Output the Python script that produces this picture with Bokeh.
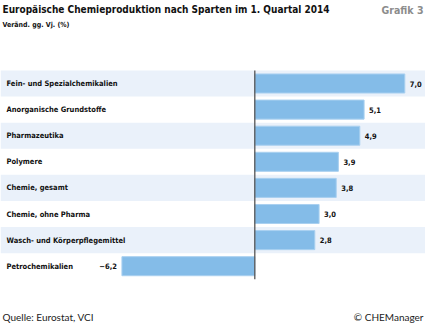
from bokeh.plotting import figure
from bokeh.models import Range1d, Label, ColumnDataSource
from bokeh.core.properties import value
from bokeh.embed import file_html
from bokeh.resources import INLINE

categories = ["Fein- und Spezialchemikalien", "Anorganische Grundstoffe", "Pharmazeutika",
              "Polymere", "Chemie, gesamt", "Chemie, ohne Pharma",
              "Wasch- und Körperpflegemittel", "Petrochemikalien"]
values = [7.0, 5.1, 4.9, 3.9, 3.8, 3.0, 2.8, -6.2]
value_labels = ["7,0", "5,1", "4,9", "3,9", "3,8", "3,0", "2,8", "\u22126,2"]

W, H = 425, 324
PX = 21.43
X0 = 254.3
ROW = 26.1
Y0 = 83.0

xmin = -X0 / PX
xmax = (W - X0) / PX
ytop = -Y0 / ROW
ybot = (H - Y0) / ROW

F = "DejaVu Sans Condensed"
F2 = "Lato"

p = figure(width=W, height=H, output_backend="svg", toolbar_location=None,
           x_range=Range1d(xmin, xmax), y_range=Range1d(ybot, ytop),
           min_border=0, outline_line_color=None)
p.axis.visible = False
p.grid.visible = False

n = len(categories)
ys = list(range(n))
src = ColumnDataSource(dict(
    y=ys, cat=categories, val=values, lab=value_labels,
    lx=[v + 5 / PX if v >= 0 else v - 5 / PX for v in values],
    align=["left" if v >= 0 else "right" for v in values],
))

stripe_y = [i for i in ys if i % 2 == 0]
p.quad(left=xmin, right=xmax, bottom=[y - 0.5 for y in stripe_y], top=[y + 0.5 for y in stripe_y],
       fill_color="#EAF1FA", line_color=None)

p.hbar(y="y", left=0, right="val", height=0.73, source=src,
       fill_color="#84BCE8", line_color="#A9D0F0", line_width=1)

p.segment(x0=0, x1=0, y0=-0.5, y1=n - 0.5, line_color="#555555", line_width=1.3)

p.text(x=xmin + 6 / PX, y="y", text="cat", source=src, text_font=value(F),
       text_font_style="bold", text_font_size="7.5px", text_baseline="middle", text_color="#111111")
p.text(x="lx", y="y", text="lab", source=src, text_align="align",
       text_font=value(F), text_font_style="bold", text_font_size="7.5px",
       text_baseline="middle", text_color="#111111")

p.add_layout(Label(x=2, y=H - 9, x_units="screen", y_units="screen",
                   text="Europäische Chemieproduktion nach Sparten im 1. Quartal 2014",
                   text_font=F, text_font_style="bold", text_font_size="10px",
                   text_baseline="middle", text_color="#111111"))
p.add_layout(Label(x=423, y=H - 9, x_units="screen", y_units="screen", text="Grafik 3",
                   text_font=F, text_font_style="bold", text_font_size="10.5px",
                   text_align="right", text_baseline="middle", text_color="#8C8C8C"))
p.add_layout(Label(x=2, y=H - 24, x_units="screen", y_units="screen", text="Veränd. gg. Vj. (%)",
                   text_font=F, text_font_style="bold", text_font_size="7px",
                   text_baseline="middle", text_color="#111111"))
p.add_layout(Label(x=2, y=H - 316, x_units="screen", y_units="screen", text="Quelle: Eurostat, VCI",
                   text_font=F2, text_font_size="10px",
                   text_baseline="middle", text_color="#222222"))
p.add_layout(Label(x=423, y=H - 316, x_units="screen", y_units="screen", text="© CHEManager",
                   text_font=F2, text_font_size="10px", text_align="right",
                   text_baseline="middle", text_color="#222222"))

open("out.html", "w").write(file_html(p, INLINE))
